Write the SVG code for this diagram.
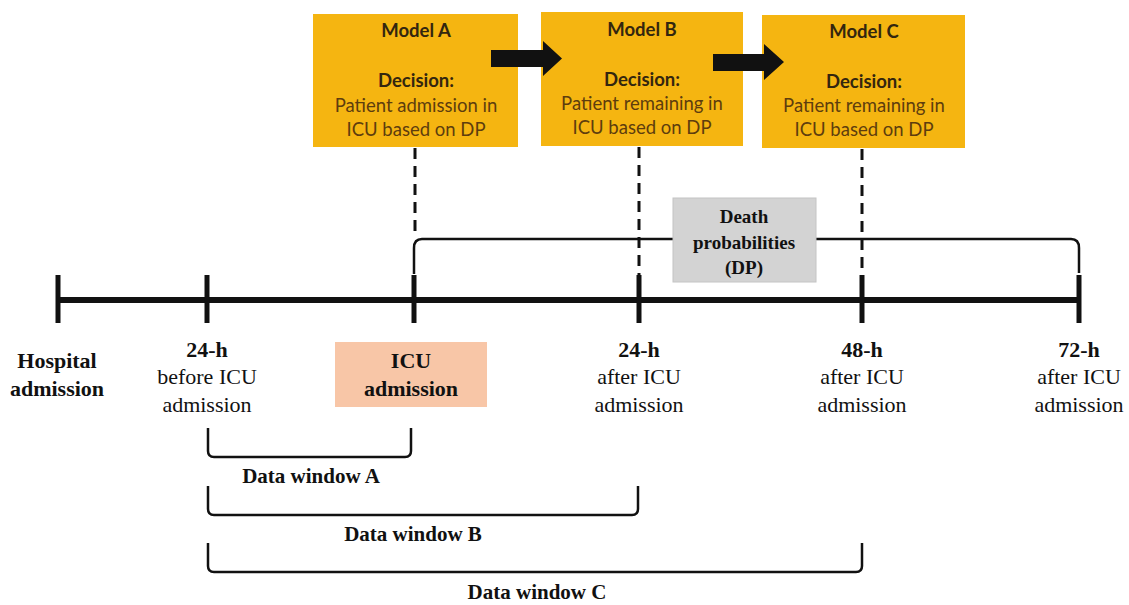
<svg xmlns="http://www.w3.org/2000/svg" width="1129" height="605" viewBox="0 0 1129 605">
<defs>
<style>
.model{fill:#F5B511;}
.mt{font-family:Lato,"Open Sans","Liberation Sans",sans-serif;font-size:18.5px;text-anchor:middle;}
.mb{font-weight:bold;fill:#33260f;}
.mn{fill:#5e3d0e;}
.arrow{fill:#111;}
.dash{stroke:#111;stroke-width:3;stroke-dasharray:11 7;fill:none;}
.axis{stroke:#111;stroke-width:6;fill:none;}
.tick{stroke:#111;stroke-width:5;fill:none;}
.brk{stroke:#111;stroke-width:2.5;fill:none;stroke-linejoin:round;}
.st{font-family:"Liberation Serif","Times New Roman",serif;font-size:22px;text-anchor:middle;fill:#111;}
.sb{font-weight:bold;}
</style>
</defs>
<rect width="1129" height="605" fill="#ffffff"/>

<g id="connectors">
<line class="dash" x1="415" y1="148" x2="415" y2="236"/>
<line class="dash" x1="639" y1="147" x2="639" y2="276"/>
<line class="dash" x1="862" y1="149" x2="862" y2="276"/>
<path class="brk" d="M414,274 L414,248 Q414,239 422,239 L1071,239 Q1079,239 1079,248 L1079,273"/>
<path class="brk" d="M208,428 L208,451 Q208,457 214,457 L405,457 Q411,457 411,451 L411,428"/>
<path class="brk" d="M208,486 L208,509 Q208,515 214,515 L632,515 Q638,515 638,509 L638,486"/>
<path class="brk" d="M208,543 L208,566 Q208,572 214,572 L856,572 Q862,572 862,566 L862,543"/>
</g>

<g id="timeline">
<line class="axis" x1="58" y1="300" x2="1079" y2="300"/>
<line class="tick" x1="58" y1="275" x2="58" y2="323"/>
<line class="tick" x1="207" y1="275" x2="207" y2="323"/>
<line class="tick" x1="414" y1="275" x2="414" y2="323"/>
<line class="tick" x1="639" y1="275" x2="639" y2="323"/>
<line class="tick" x1="862" y1="275" x2="862" y2="323"/>
<line class="tick" x1="1079" y1="275" x2="1079" y2="323"/>
</g>

<g id="modelA">
<rect class="model" x="313" y="14" width="205" height="133"/>
<text class="mt mb" x="416" y="37">Model A</text>
<text class="mt mb" x="416" y="87">Decision:</text>
<text class="mt mn" x="416" y="112">Patient admission in</text>
<text class="mt mn" x="416" y="136">ICU based on DP</text>
</g>
<g id="modelB">
<rect class="model" x="541" y="12" width="202" height="134"/>
<text class="mt mb" x="642" y="36">Model B</text>
<text class="mt mb" x="642" y="86">Decision:</text>
<text class="mt mn" x="642" y="110">Patient remaining in</text>
<text class="mt mn" x="642" y="134">ICU based on DP</text>
</g>
<g id="modelC">
<rect class="model" x="762" y="15" width="203" height="133"/>
<text class="mt mb" x="864" y="38">Model C</text>
<text class="mt mb" x="864" y="88">Decision:</text>
<text class="mt mn" x="864" y="112">Patient remaining in</text>
<text class="mt mn" x="864" y="136">ICU based on DP</text>
</g>

<g id="arrowAB">
<polygon class="arrow" points="491,50 543,50 543,41 562,58.5 543,76 543,67 491,67"/>
</g>
<g id="arrowBC">
<polygon class="arrow" points="713,54 764,54 764,44 784,62 764,80 764,71 713,71"/>
</g>

<g id="dpBox">
<rect x="673" y="198" width="143" height="84" fill="#D3D3D3" stroke="#c4c4c4" stroke-width="1"/>
<text class="st sb" x="744" y="223" style="font-size:19px">Death</text>
<text class="st sb" x="744" y="249" style="font-size:19px">probabilities</text>
<text class="st sb" x="744" y="274" style="font-size:19px">(DP)</text>
</g>

<g id="icuBox">
<rect x="335" y="342" width="152" height="65" fill="#F8C6A7"/>
<text class="st sb" x="411" y="368">ICU</text>
<text class="st sb" x="411" y="396">admission</text>
</g>

<g id="labelHospital">
<text class="st sb" x="57" y="368">Hospital</text>
<text class="st sb" x="57" y="396">admission</text>
</g>
<g id="label24before">
<text class="st sb" x="207" y="357">24-h</text>
<text class="st" x="207" y="384">before ICU</text>
<text class="st" x="207" y="412">admission</text>
</g>
<g id="label24after">
<text class="st sb" x="639" y="357">24-h</text>
<text class="st" x="639" y="384">after ICU</text>
<text class="st" x="639" y="412">admission</text>
</g>
<g id="label48after">
<text class="st sb" x="862" y="357">48-h</text>
<text class="st" x="862" y="384">after ICU</text>
<text class="st" x="862" y="412">admission</text>
</g>
<g id="label72after">
<text class="st sb" x="1079" y="357">72-h</text>
<text class="st" x="1079" y="384">after ICU</text>
<text class="st" x="1079" y="412">admission</text>
</g>

<g id="windowA"><text class="st sb" x="311" y="483" style="font-size:21px">Data window A</text></g>
<g id="windowB"><text class="st sb" x="413" y="541" style="font-size:21px">Data window B</text></g>
<g id="windowC"><text class="st sb" x="537" y="599" style="font-size:21px">Data window C</text></g>
</svg>
